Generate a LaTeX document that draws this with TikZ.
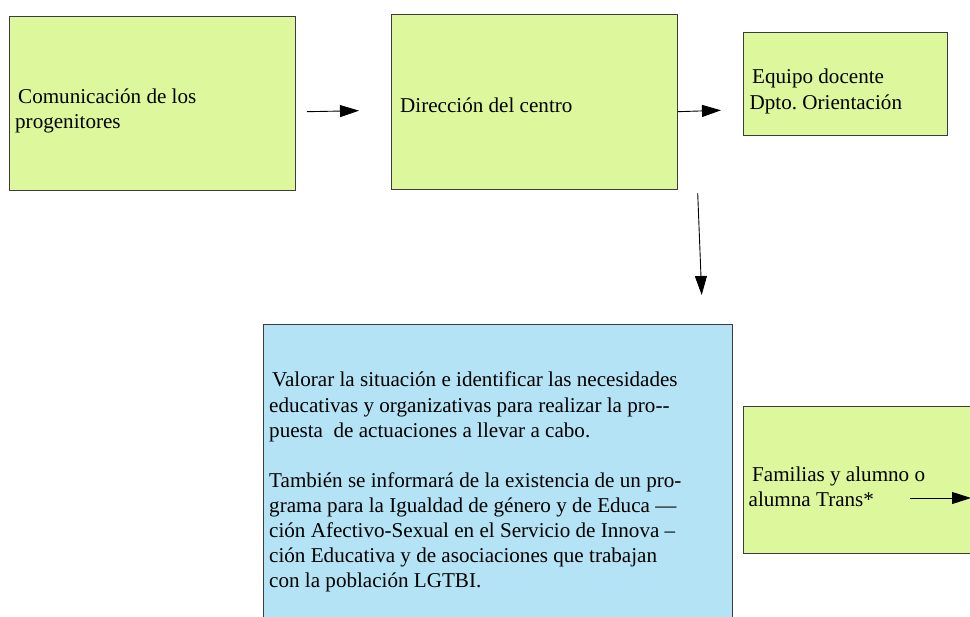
\documentclass[tikz,border=0pt]{standalone}
\usepackage{fontspec}
\setmainfont{Liberation Serif}
\usetikzlibrary{arrows.meta}
\definecolor{boxgreen}{RGB}{221,248,156}
\definecolor{boxblue}{RGB}{180,227,246}
\definecolor{boxline}{RGB}{60,60,60}
\frenchspacing
\begin{document}
\begin{tikzpicture}[x=1pt,y=-1pt,
  gbox/.style={draw=boxline,line width=1pt,fill=boxgreen,rectangle,inner sep=0pt},
  bbox/.style={draw=boxline,line width=1pt,fill=boxblue,rectangle,inner sep=0pt},
  txt/.style={anchor=base west,inner sep=0pt,font=\frenchspacing\fontsize{21.1}{25.3}\selectfont,text=black},
  arr/.style={draw=black,line width=0.9pt,-{Triangle[length=19pt,width=12pt]}}]
\useasboundingbox (0,0) rectangle (970,617);
\clip (0,0) rectangle (970,617);
% boxes
\node[gbox,minimum width=286.4pt,minimum height=174pt] (b1) at (152.5,103.7) {};
\node[gbox,minimum width=286pt,minimum height=174.7pt] (b2) at (534.7,101.7) {};
\node[gbox,minimum width=204pt,minimum height=103.3pt] (b3) at (845.7,84.3) {};
\node[bbox,minimum width=468.7pt,minimum height=325.7pt] (b4) at (497.7,487.2) {};
\node[gbox,minimum width=256.7pt,minimum height=147.3pt] (b5) at (871.7,480.3) {};
% texts
\node[txt] (t1a) at (18,103.3) {Comunicación de los};
\node[txt] (t1b) at (15,128.5) {progenitores};
\node[txt] (t2a) at (400,113) {Dirección del centro};
\node[txt] (t3a) at (752,84) {Equipo docente};
\node[txt] (t3b) at (749.5,109.5) {Dpto. Orientación};
\node[txt] (t4a) at (272,386.7) {Valorar la situación e identificar las necesidades};
\node[txt] (t4b) at (269,412.5) {educativas y organizativas para realizar la pro-{}-};
\node[txt] (t4c) at (269,437.8) {puesta\hspace{0.5em}de actuaciones a llevar a cabo.};
\node[txt] (t4d) at (269,487.2) {También se informará de la existencia de un pro-};
\node[txt] (t4e) at (269,512.3) {grama para la Igualdad de género y de Educa —};
\node[txt] (t4f) at (269,537.3) {ción Afectivo-Sexual en el Servicio de Innova –};
\node[txt] (t4g) at (269,562.3) {ción Educativa y de asociaciones que trabajan};
\node[txt] (t4h) at (269,587.3) {con la población LGTBI.};
\node[txt] (t5a) at (752,481.5) {Familias y alumno o};
\node[txt] (t5b) at (748.5,507) {alumna Trans*};
% arrows
\coordinate (a1s) at (307,111.7);
\coordinate (a1e) at (359,110.7);
\coordinate (a2s) at (678,111.7);
\coordinate (a2e) at (721,110.3);
\coordinate (a3s) at (697.7,193);
\coordinate (a3e) at (701.7,295);
\coordinate (a4s) at (910,498);
\coordinate (a4e) at (971,498);
\draw[arr] (a1s) -- (a1e);
\draw[arr] (a2s) -- (a2e);
\draw[arr] (a3s) -- (a3e);
\draw[arr] (a4s) -- (a4e);
\end{tikzpicture}
\end{document}
